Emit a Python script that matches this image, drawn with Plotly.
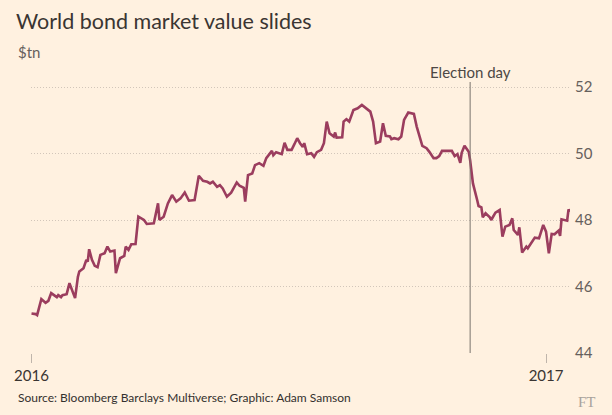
import plotly.graph_objects as go

# ---- data ----
dates = [
    "2016-01-01", "2016-01-04", "2016-01-05", "2016-01-08", "2016-01-11", "2016-01-13", "2016-01-15",
    "2016-01-19", "2016-01-20", "2016-01-22", "2016-01-23", "2016-01-26", "2016-01-28", "2016-01-31",
    "2016-02-01", "2016-02-03", "2016-02-04", "2016-02-07", "2016-02-09", "2016-02-10", "2016-02-11",
    "2016-02-13", "2016-02-15", "2016-02-17", "2016-02-19", "2016-02-22", "2016-02-24", "2016-02-26",
    "2016-02-29", "2016-03-01", "2016-03-04", "2016-03-07", "2016-03-08", "2016-03-10", "2016-03-12",
    "2016-03-15", "2016-03-17", "2016-03-21", "2016-03-23", "2016-03-28", "2016-03-31", "2016-04-01",
    "2016-04-04", "2016-04-07", "2016-04-10", "2016-04-13", "2016-04-16", "2016-04-19", "2016-04-22",
    "2016-04-26", "2016-04-29", "2016-05-02", "2016-05-05", "2016-05-07", "2016-05-09", "2016-05-12",
    "2016-05-14", "2016-05-16", "2016-05-19", "2016-05-22", "2016-05-26", "2016-05-28", "2016-05-31",
    "2016-06-01", "2016-06-03", "2016-06-06", "2016-06-08", "2016-06-11", "2016-06-14", "2016-06-16",
    "2016-06-20", "2016-06-21", "2016-06-23", "2016-06-27", "2016-06-29", "2016-07-01", "2016-07-04",
    "2016-07-06", "2016-07-08", "2016-07-10", "2016-07-12", "2016-07-13", "2016-07-15", "2016-07-18",
    "2016-07-20", "2016-07-22", "2016-07-25", "2016-07-27", "2016-07-29", "2016-07-31", "2016-08-03",
    "2016-08-04", "2016-08-05", "2016-08-09", "2016-08-10", "2016-08-12", "2016-08-14", "2016-08-17",
    "2016-08-20", "2016-08-23", "2016-08-26", "2016-08-29", "2016-08-31", "2016-09-02", "2016-09-05",
    "2016-09-07", "2016-09-09", "2016-09-12", "2016-09-13", "2016-09-15", "2016-09-18", "2016-09-20",
    "2016-09-22", "2016-09-25", "2016-09-29", "2016-10-01", "2016-10-05", "2016-10-08", "2016-10-10",
    "2016-10-13", "2016-10-15", "2016-10-17", "2016-10-19", "2016-10-23", "2016-10-26", "2016-10-28",
    "2016-10-30", "2016-11-01", "2016-11-02", "2016-11-04", "2016-11-07", "2016-11-08", "2016-11-10",
    "2016-11-13", "2016-11-14", "2016-11-16", "2016-11-17", "2016-11-19", "2016-11-22", "2016-11-23",
    "2016-11-26", "2016-11-29", "2016-12-01", "2016-12-03", "2016-12-06", "2016-12-08", "2016-12-09",
    "2016-12-12", "2016-12-13", "2016-12-15", "2016-12-18", "2016-12-19", "2016-12-22", "2016-12-24",
    "2016-12-27", "2016-12-30", "2017-01-01", "2017-01-03", "2017-01-05", "2017-01-07", "2017-01-10",
    "2017-01-11", "2017-01-12", "2017-01-16", "2017-01-17", "2017-01-18",
]
values = [
    45.19, 45.17, 45.14, 45.62, 45.51, 45.57, 45.80,
    45.68, 45.74, 45.68, 45.74, 45.77, 46.10, 45.80,
    45.65, 46.29, 46.45, 46.55, 46.80, 46.75, 47.12,
    46.80, 46.62, 46.58, 46.95, 47.00, 47.20, 47.05,
    47.08, 46.40, 46.85, 46.92, 47.20, 47.10, 47.27,
    47.28, 48.10, 48.00, 47.88, 47.90, 48.50, 48.00,
    48.10, 48.50, 48.75, 48.55, 48.65, 48.83, 48.58,
    48.60, 49.33, 49.18, 49.15, 49.10, 49.15, 49.00,
    49.05, 48.95, 48.70, 48.82, 49.13, 49.03, 48.97,
    48.55, 49.35, 49.40, 49.65, 49.71, 49.63, 49.86,
    50.08, 49.95, 50.04, 49.98, 50.32, 50.11, 50.11,
    50.28, 50.46, 50.31, 50.20, 50.31, 49.98, 50.01,
    49.90, 50.04, 50.11, 50.31, 50.96, 50.61, 50.51,
    50.63, 50.48, 50.49, 50.96, 51.03, 50.96, 51.31,
    51.36, 51.46, 51.36, 51.26, 50.96, 50.31, 50.36,
    50.91, 50.53, 50.51, 50.43, 50.46, 50.43, 50.51,
    51.01, 51.23, 51.19, 50.81, 50.23, 50.16, 50.05,
    49.86, 49.86, 49.92, 50.08, 50.08, 50.08, 49.92,
    49.98, 49.72, 50.02, 50.23, 50.05, 49.80, 49.10,
    48.60, 48.42, 48.38, 48.08, 48.20, 48.08, 48.00,
    48.22, 48.30, 47.50, 47.80, 47.85, 48.05, 47.70,
    47.55, 47.78, 47.02, 47.20, 47.15, 47.32, 47.47,
    47.45, 47.85, 47.65, 47.00, 47.58, 47.57, 47.68,
    47.52, 48.02, 47.98, 48.32, 48.25,
]
y_ticks = [44, 46, 48, 50, 52]
x_tick_dates = ["2016-01-01", "2017-01-01"]
x_tick_labels = ["2016", "2017"]
election_date = "2016-11-08"

title = "World bond market value slides"
unit = "$tn"
source = "Source: Bloomberg Barclays Multiverse; Graphic: Adam Samson"

# ---- layout geometry (pixels) ----
WIDTH, HEIGHT = 612, 415
L, R, T, B = 31, 570, 82, 353
PW, PH = R - L, B - T

def pxx(x):
    return (x - L) / PW

def pxy(y):
    return (B - y) / PH

BG = "#FFF1E0"
FONT = "Lato"

fig = go.Figure()
fig.add_trace(go.Scatter(
    x=dates, y=values, mode="lines",
    line=dict(color="#9b3d5e", width=2.6),
    hoverinfo="skip", showlegend=False,
))

fig.add_shape(type="line", xref="x", yref="paper",
              x0=election_date, x1=election_date, y0=0, y1=1,
              line=dict(color="#7a736d", width=1))

annotations = [
    dict(text="Election day", xref="x", yref="paper", x=election_date, y=pxy(72),
         xanchor="center", yanchor="middle", showarrow=False,
         font=dict(family=FONT, size=15, color="#4d4845")),
    dict(text=unit, xref="paper", yref="paper", x=pxx(16), y=pxy(52),
         xanchor="left", yanchor="middle", showarrow=False,
         font=dict(family=FONT, size=15, color="#66605c")),
    dict(text=source, xref="paper", yref="paper", x=pxx(16), y=pxy(397),
         xanchor="left", yanchor="middle", showarrow=False,
         font=dict(family=FONT, size=12, color="#33302e")),
    dict(text="FT", xref="paper", yref="paper", x=pxx(598), y=pxy(402),
         xanchor="right", yanchor="middle", showarrow=False,
         font=dict(family="Liberation Serif", size=15, color="#a8a29c")),
]

fig.update_layout(
    width=WIDTH, height=HEIGHT,
    margin=dict(l=L, r=WIDTH - R, t=T, b=HEIGHT - B, pad=0),
    paper_bgcolor=BG, plot_bgcolor=BG,
    title=dict(text=title, xref="container", yref="container",
               x=16 / WIDTH, y=1 - 21 / HEIGHT, xanchor="left", yanchor="middle",
               font=dict(family=FONT, size=21.5, color="#3a3532")),
    annotations=annotations,
    xaxis=dict(
        type="date",
        range=["2015-12-31 15:20", "2017-01-18 01:00"],
        tickvals=x_tick_dates, ticktext=x_tick_labels,
        ticks="outside", ticklen=9, tickcolor="#bfb5ab", tickwidth=1,
        tickfont=dict(family=FONT, size=15, color="#3a3532"),
        showgrid=False, zeroline=False, showline=False,
    ),
    yaxis=dict(
        range=[44, 44 + PH / 33.25],
        side="right", tickvals=y_ticks,
        ticks="", ticklabelstandoff=4,
        tickfont=dict(family=FONT, size=15, color="#66605c"),
        showgrid=True, gridcolor="#d2c6ba", griddash="1px,2px", gridwidth=1,
        zeroline=False, showline=False,
    ),
)

fig.write_html("out.html")
